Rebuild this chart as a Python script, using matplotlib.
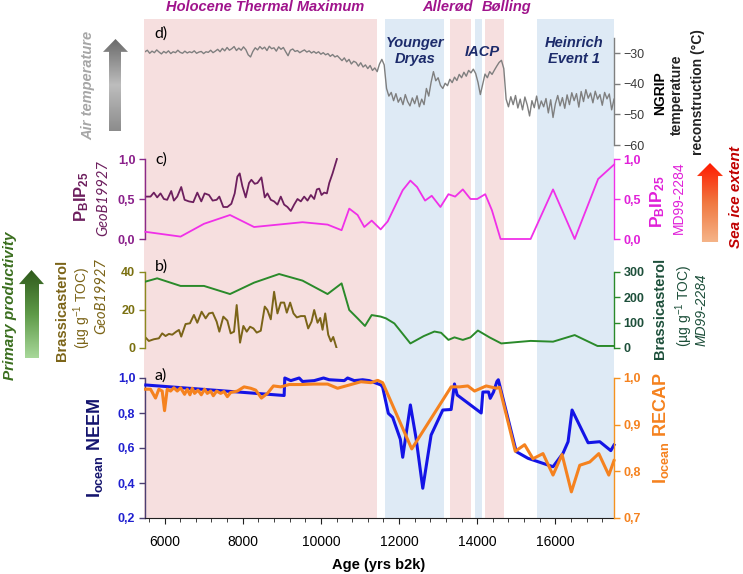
import numpy as np
import matplotlib.pyplot as plt
from matplotlib.patches import Polygon
from matplotlib.colors import LinearSegmentedColormap
from matplotlib.ticker import MultipleLocator, FuncFormatter

plt.rcParams['font.family'] = ['Liberation Sans', 'DejaVu Sans']
plt.rcParams['mathtext.fontset'] = 'custom'
plt.rcParams['mathtext.rm'] = 'Liberation Sans'
plt.rcParams['mathtext.bf'] = 'Liberation Sans:bold'
plt.rcParams['mathtext.it'] = 'Liberation Sans:italic'

# ---- climate periods (yrs b2k)
warm_spans = [(5500, 11450), (13300, 13850), (14200, 14690)]
cold_spans = [(11650, 13150), (13950, 14130), (15540, 17500)]

# ---- d) NGRIP temperature, 60-yr steps from 5500 to 17500
ngrip_start, ngrip_step = 5500, 60
ngrip_temp = [
    -29.5, -29.0, -30.0, -29.3, -29.8, -28.9, -29.6, -30.2, -29.4, -29.9,
    -29.2, -30.1, -29.5, -29.8, -29.0, -29.7, -30.0, -29.3, -29.9, -29.5,
    -29.8, -29.2, -30.0, -29.6, -29.4, -30.1, -29.5, -29.7, -29.0, -29.8,
    -29.3, -28.7, -29.5, -28.4, -29.2, -28.1, -29.0, -28.5, -27.8, -29.1,
    -28.3, -29.0, -27.9, -28.8, -30.5, -31.2, -29.4, -28.2, -28.9, -27.8,
    -28.6, -28.0, -29.1, -27.7, -28.5, -28.2, -29.3, -27.9, -28.7, -28.1,
    -29.5, -30.8, -29.0, -28.6, -29.4, -29.1, -29.8, -29.3, -28.9, -29.6,
    -29.2, -29.9, -29.4, -30.0, -29.5, -30.3, -29.8, -30.5, -30.1, -31.0,
    -30.4, -31.2, -30.8, -31.6, -32.4, -31.5, -32.8, -32.0, -33.5, -32.6,
    -33.0, -34.2, -33.1, -34.5, -33.8, -35.0, -34.0, -35.6, -34.8, -36.0,
    -33.5, -32.0, -33.8, -41.5, -44.0, -42.8, -45.5, -43.2, -46.0, -44.5,
    -46.8, -43.5, -45.8, -47.2, -44.6, -46.5, -43.9, -47.5, -45.0, -46.8,
    -41.5, -44.0, -39.5, -36.0, -39.0, -38.0, -40.5, -41.5, -39.8, -40.6,
    -38.5, -39.6, -37.8, -38.9, -36.9, -38.0, -36.2, -37.5, -35.6, -36.4,
    -35.2, -36.6, -39.5, -43.5, -40.2, -36.8, -38.0, -36.0, -36.9, -35.5,
    -34.2, -33.0, -32.3, -35.0, -45.0, -47.5, -44.2, -46.8, -43.8, -47.9,
    -45.0, -48.5, -44.3, -46.9, -50.5, -45.5, -47.8, -44.0, -48.2, -45.6,
    -47.5, -44.8, -49.5, -45.2, -51.0, -46.5, -43.8, -47.2, -44.5, -48.0,
    -43.6, -46.8, -42.9, -45.5, -43.2, -47.6, -42.5, -45.8, -41.9, -44.7,
    -43.0, -46.2, -42.4, -45.0, -43.5, -47.0, -42.8, -44.9, -43.3, -48.5,
    -45.0]
ngrip_age = ngrip_start + ngrip_step * np.arange(len(ngrip_temp))

# ---- c) PBIP25
geob_pbip_age = [5521, 5641, 5726, 5812, 5897, 5983, 6068, 6171, 6239, 6325,
                 6427, 6513, 6624, 6735, 6838, 6940, 7026, 7137, 7231, 7333,
                 7402, 7504, 7607, 7709, 7795, 7863, 7923, 7991, 8077, 8162,
                 8222, 8308, 8376, 8479, 8564, 8632, 8718, 8803, 8889, 8974,
                 9060, 9145, 9231, 9316, 9402, 9487, 9573, 9658, 9744, 9829,
                 9897, 9957, 10017, 10085, 10154, 10214, 10299, 10410]
geob_pbip = [0.53, 0.53, 0.58, 0.52, 0.57, 0.50, 0.49, 0.60, 0.48, 0.53,
             0.65, 0.49, 0.47, 0.46, 0.58, 0.47, 0.57, 0.55, 0.48, 0.49,
             0.53, 0.40, 0.40, 0.44, 0.57, 0.78, 0.82, 0.66, 0.52, 0.70,
             0.74, 0.69, 0.70, 0.77, 0.52, 0.57, 0.49, 0.47, 0.43, 0.53,
             0.43, 0.40, 0.35, 0.43, 0.50, 0.47, 0.53, 0.48, 0.55, 0.50,
             0.62, 0.63, 0.55, 0.58, 0.57, 0.70, 0.82, 1.00]

md_pbip_age = [5510, 6410, 7009, 7675, 8291, 9530, 10171, 10530, 10726, 10940,
               11111, 11300, 11530, 11710, 12094, 12290, 12461, 12666, 12837,
               13059, 13264, 13435, 13632, 13828, 14000, 14205, 14376, 14597,
               15366, 15940, 16494, 17094, 17500]
md_pbip = [0.09, 0.03, 0.19, 0.30, 0.15, 0.21, 0.18, 0.11, 0.38, 0.30,
           0.15, 0.23, 0.12, 0.22, 0.61, 0.73, 0.65, 0.48, 0.54,
           0.40, 0.56, 0.53, 0.62, 0.50, 0.50, 0.56, 0.36, 0.00,
           0.00, 0.62, 0.00, 0.75, 0.93]

# ---- b) Brassicasterol
geob_brass_age = [5510, 5598, 5726, 5855, 5940, 6026, 6111, 6197, 6299, 6368,
                  6427, 6538, 6650, 6752, 6838, 6949, 7051, 7137, 7231, 7333,
                  7402, 7504, 7607, 7692, 7778, 7846, 7932, 8017, 8103, 8188,
                  8274, 8359, 8462, 8564, 8632, 8718, 8803, 8889, 8974, 9060,
                  9128, 9214, 9299, 9385, 9487, 9590, 9675, 9761, 9829, 9915,
                  9983, 10043, 10111, 10188, 10256, 10316, 10402]
geob_brass = [5.6, 3.7, 4.6, 5.1, 7.7, 6.3, 7.4, 7.0, 8.6, 9.5,
              6.0, 12.6, 13.0, 17.4, 13.3, 19.1, 15.6, 18.2, 18.6, 13.9,
              8.6, 16.5, 14.4, 7.7, 8.6, 22.6, 2.8, 11.6, 8.6, 11.2,
              10.3, 8.1, 9.1, 21.8, 20.0, 15.1, 29.6, 18.2, 23.9, 23.9,
              18.6, 23.9, 18.2, 16.1, 16.8, 16.8, 10.3, 13.9, 20.0, 13.3,
              15.8, 9.6, 18.2, 7.0, 3.5, 5.8, 0.0]

md_brass_age = [5510, 5812, 6410, 7009, 7675, 8291, 8931, 9530, 10171, 10530,
                10726, 10940, 11128, 11300, 11530, 11666, 11880, 12290, 12632,
                12905, 13077, 13264, 13418, 13632, 13828, 14017, 14315, 14615,
                15366, 15940, 16494, 17077, 17500]
md_brass = [262, 275, 245, 245, 213, 258, 292, 266, 213, 255,
            150, 117, 87, 130, 124, 117, 97, 18, 47,
            65, 60, 32, 42, 32, 42, 69, 42, 18,
            28, 25, 51, 8, 8]

# ---- a) Iocean
neem_age = [5520, 9060, 9077, 9231, 9445, 9530, 9829, 10068, 10214, 10598,
            10684, 10855, 11068, 11239, 11300, 11538, 11581, 11726, 11837,
            12033, 12094, 12290, 12436, 12607, 12820, 13119, 13333, 13418,
            13487, 14102, 14145, 14290, 14333, 14418, 14504, 14540, 15000,
            15300, 15940, 16196, 16325, 16427, 16837, 17136, 17418, 17500]
neem = [0.96, 0.90, 1.00, 0.985, 1.00, 0.98, 0.985, 1.00, 0.99, 0.985,
        1.00, 0.985, 0.99, 0.985, 0.98, 0.96, 0.947, 0.798, 0.775,
        0.65, 0.547, 0.846, 0.655, 0.37, 0.674, 0.817, 0.82, 0.966,
        0.903, 0.80, 0.92, 0.92, 0.884, 0.92, 0.98, 0.99, 0.579,
        0.541, 0.493, 0.57, 0.636, 0.817, 0.63, 0.636, 0.585, 0.617]

recap_age = [5513, 5641, 5769, 5855, 5940, 6000, 6068, 6154, 6239, 6325,
             6410, 6513, 6581, 6650, 6709, 6769, 6855, 6940, 7026, 7094,
             7180, 7248, 7333, 7436, 7521, 7607, 7692, 7863, 8034, 8205,
             8333, 8479, 8632, 8786, 8974, 9188, 9487, 9829, 10171, 10427,
             10769, 11026, 11282, 11453, 11581, 12325, 13333, 13547, 13760,
             13931, 14230, 14487, 14570, 14974, 15213, 15427, 15683, 15940,
             16171, 16410, 16624, 16880, 17111, 17367, 17500]
recap = [0.976, 0.976, 0.957, 0.976, 0.972, 0.930, 0.976, 0.972, 0.979, 0.972,
         0.979, 0.965, 0.976, 0.964, 0.978, 0.967, 0.974, 0.964, 0.976, 0.967,
         0.972, 0.962, 0.972, 0.967, 0.971, 0.960, 0.969, 0.972, 0.981, 0.978,
         0.974, 0.957, 0.967, 0.983, 0.981, 0.986, 0.986, 0.987, 0.987, 0.978,
         0.986, 0.992, 0.990, 0.995, 0.990, 0.848, 0.981, 0.981, 0.983,
         0.972, 0.983, 0.978, 0.980, 0.843, 0.857, 0.827, 0.838, 0.792,
         0.836, 0.756, 0.813, 0.820, 0.838, 0.792, 0.823]

W, H = 743, 574
XL = (5500, 17500)
CAP_FONT = 'Liberation Sans'


def box(x0, y0, x1, y1):
    return [x0 / W, 1 - y1 / H, (x1 - x0) / W, (y1 - y0) / H]


def ftext(x, y, s, **kw):
    kw.setdefault('ha', 'center')
    kw.setdefault('va', 'center')
    fig.text(x / W, 1 - y / H, s, **kw)


def comma(v, p):
    return f'{v:.1f}'.replace('.', ',')


def style_axis(ax, side, color, tickcolor):
    for s in ['top', 'bottom', 'left', 'right']:
        ax.spines[s].set_visible(False)
    ax.spines[side].set_visible(True)
    ax.spines[side].set_color(color)
    ax.spines[side].set_linewidth(1.0)
    ax.tick_params(axis='y', colors=color, labelcolor=tickcolor, length=4,
                   width=1.0, pad=3, labelsize=9)
    for t in ax.get_yticklabels():
        t.set_fontweight('bold')
    if side == 'left':
        ax.yaxis.tick_left()
    else:
        ax.yaxis.tick_right()
    ax.set_xticks([])
    ax.patch.set_alpha(0)
    ax.set_xlim(*XL)


def grad_arrow(bx, hb, sl, sr, colors):
    ax = fig.add_axes(box(*bx))
    ax.set_xlim(0, 1)
    ax.set_ylim(0, 1)
    ax.axis('off')
    cmap = LinearSegmentedColormap.from_list('g', colors)
    im = ax.imshow(np.linspace(0, 1, 256).reshape(-1, 1), cmap=cmap,
                   extent=[0, 1, 0, 1], origin='lower', aspect='auto')
    pts = [(0.5, 1), (1, hb), (sr, hb), (sr, 0), (sl, 0), (sl, hb), (0, hb)]
    poly = Polygon(pts, closed=True, facecolor='none', edgecolor='none',
                   transform=ax.transData)
    ax.add_patch(poly)
    im.set_clip_path(poly)


fig = plt.figure(figsize=(W / 100, H / 100), dpi=100)

# background shading
bg = fig.add_axes(box(144, 19, 614, 518))
bg.set_xlim(*XL)
bg.set_ylim(0, 1)
for a, b in warm_spans:
    bg.axvspan(a, b, color='#f6dfdf', lw=0)
for a, b in cold_spans:
    bg.axvspan(a, b, color='#deeaf5', lw=0)
bg.axis('off')

# d) NGRIP
axd = fig.add_axes(box(145, 38, 614, 145))
axd.plot(ngrip_age, ngrip_temp, color='#7f7f7f', lw=1.0)
axd.set_ylim(-60, -25)
axd.set_yticks([-60, -50, -40, -30])
style_axis(axd, 'right', '#7f7f7f', '#3a3a3a')

# c) PBIP25
axc = fig.add_axes(box(145, 159, 614, 239))
axc.plot(geob_pbip_age, geob_pbip, color='#6d1f5e', lw=1.3, clip_on=False)
axc.set_ylim(0, 1)
axc.set_yticks([0, 0.5, 1.0])
axc.yaxis.set_major_formatter(FuncFormatter(comma))
style_axis(axc, 'left', '#8a2a8a', '#8a1f8a')
axc2 = axc.twinx()
axc2.plot(md_pbip_age, md_pbip, color='#f030e8', lw=1.3, clip_on=False)
axc2.set_ylim(0, 1)
axc2.set_yticks([0, 0.5, 1.0])
axc2.yaxis.set_major_formatter(FuncFormatter(comma))
style_axis(axc2, 'right', '#f030e8', '#e020d8')

# b) Brassicasterol
axb = fig.add_axes(box(145, 272, 614, 348))
axb.plot(geob_brass_age, geob_brass, color='#7b6418', lw=1.4)
axb.set_ylim(0, 40)
axb.set_yticks([0, 20, 40])
style_axis(axb, 'left', '#8a8a20', '#7a7010')
axb2 = axb.twinx()
axb2.plot(md_brass_age, md_brass, color='#2a8a2a', lw=1.4)
axb2.set_ylim(0, 300)
axb2.set_yticks([0, 100, 200, 300])
style_axis(axb2, 'right', '#2a8a2a', '#1d4f3a')

# a) Iocean
axa = fig.add_axes(box(145, 378, 614, 518))
axa.set_ylim(0.2, 1.0)
axa.set_yticks([0.2, 0.4, 0.6, 0.8, 1.0])
axa.yaxis.set_major_formatter(FuncFormatter(comma))
style_axis(axa, 'left', '#4b3f72', '#2020d0')
axa2 = axa.twinx()
axa2.plot(recap_age, recap, color='#f5821f', lw=2.2, clip_on=False,
          zorder=2)
axa2.set_ylim(0.7, 1.0)
axa2.set_yticks([0.7, 0.8, 0.9, 1.0])
axa2.yaxis.set_major_formatter(FuncFormatter(comma))
style_axis(axa2, 'right', '#f5921f', '#f5821f')
# NEEM on its own overlay, mapped with the left scale
axa3 = fig.add_axes(box(145, 378, 614, 518))
axa3.plot(neem_age, neem, color='#1414e6', lw=2.2, clip_on=False)
axa3.set_ylim(0.2, 1.0)
axa3.axis('off')
axa3.set_xlim(*XL)
axa2.set_zorder(axa3.get_zorder() + 1)
axa2.patch.set_alpha(0)
axa.spines['bottom'].set_visible(True)
axa.spines['bottom'].set_color('#202020')
axa.set_xticks([6000, 8000, 10000, 12000, 14000, 16000])
axa.xaxis.set_minor_locator(MultipleLocator(400))
axa.tick_params(axis='x', which='major', length=4, labelsize=10, pad=8,
                colors='#202020', labelcolor='black')
axa.tick_params(axis='x', which='minor', length=3, colors='#202020')
axa.set_xlim(*XL)

# panel letters
for lab, y in [('d)', 34), ('c)', 160), ('b)', 267), ('a)', 376)]:
    ftext(161, y, lab, fontsize=11.5, family='Lato')

# period names
hl = dict(color='#a0148c', fontsize=10.5, fontweight='bold', style='italic',
          family=CAP_FONT)
ftext(265, 7, 'Holocene Thermal Maximum', **hl)
ftext(448, 7, 'Allerød', **hl)
ftext(507, 7, 'Bølling', **hl)
cl = dict(color='#1c2b6b', fontsize=10.5, fontweight='bold', style='italic',
          family=CAP_FONT, linespacing=1.2)
ftext(415, 51, 'Younger\nDryas', **cl)
ftext(482, 52, 'IACP', **cl)
ftext(574, 51, 'Heinrich\nEvent 1', **cl)

# arrows and side captions
grad_arrow((103, 39, 128, 131), 0.86, 0.24, 0.72,
           ['#8c8c8c', '#bdbdbd', '#6a6a6a'])
ftext(88, 85, 'Air temperature', rotation=90, color='#a6a6a6', fontsize=10.5,
      fontweight='bold', style='italic', family=CAP_FONT)
grad_arrow((697, 163, 723, 242), 0.835, 0.19, 0.81,
           ['#f5b488', '#f07840', '#ff1a00'])
ftext(736, 197, 'Sea ice extent', rotation=90, color='#c00000', fontsize=11,
      fontweight='bold', style='italic', family=CAP_FONT)
grad_arrow((19, 270, 44, 358), 0.84, 0.24, 0.80,
           ['#a8d89a', '#5e9a48', '#2f5a1c'])
ftext(10, 306, 'Primary productivity', rotation=90, color='#3a6e1e',
      fontsize=11, fontweight='bold', style='italic', family=CAP_FONT)

# right side labels
ftext(660, 93, 'NGRIP', rotation=90, fontsize=10, fontweight='bold')
ftext(677, 95, 'temperature', rotation=90, fontsize=10, fontweight='bold',
      color='#222222')
ftext(698, 92, 'reconstruction (°C)', rotation=90, fontsize=10,
      fontweight='bold', color='#222222')

pb = r'$\mathbf{P_{B}IP_{25}}$'
ftext(658, 202, pb, rotation=90, fontsize=12.5, color='#e020d8')
ftext(679, 198, 'MD99-2284', rotation=90, fontsize=10, color='#e020d8')
ftext(82, 197, pb, rotation=90, fontsize=12, color='#6d1f5e')
ftext(103, 198, 'GeoB19927', rotation=90, fontsize=10.5, color='#6d1f5e',
      style='italic', family='Lato')

ftext(62, 310, 'Brassicasterol', rotation=90, fontsize=10.5, fontweight='bold',
      color='#7b6418')
ftext(82, 308, r'(µg g$^{-1}$ TOC)', rotation=90, fontsize=10, color='#7b6418')
ftext(101, 296, 'GeoB19927', rotation=90, fontsize=10.5, color='#7b6418',
      style='italic', family='Lato')
ftext(660, 308, 'Brassicasterol', rotation=90, fontsize=10.5,
      fontweight='bold', color='#1d4f3a')
ftext(684, 306, r'(µg g$^{-1}$ TOC)', rotation=90, fontsize=10,
      color='#1d4f3a')
ftext(702, 310, 'MD99-2284', rotation=90, fontsize=10, color='#1d4f3a',
      style='italic')

ftext(95, 448, r'$\mathbf{I_{ocean}}$ NEEM', rotation=90, fontsize=13,
      fontweight='bold', color='#14146e')
ftext(661, 428, r'$\mathbf{I_{ocean}}$ RECAP', rotation=90, fontsize=13,
      fontweight='bold', color='#f5821f')

ftext(379, 565, 'Age (yrs b2k)', fontsize=10.5, fontweight='bold')

fig.savefig('out.png', dpi=100)
